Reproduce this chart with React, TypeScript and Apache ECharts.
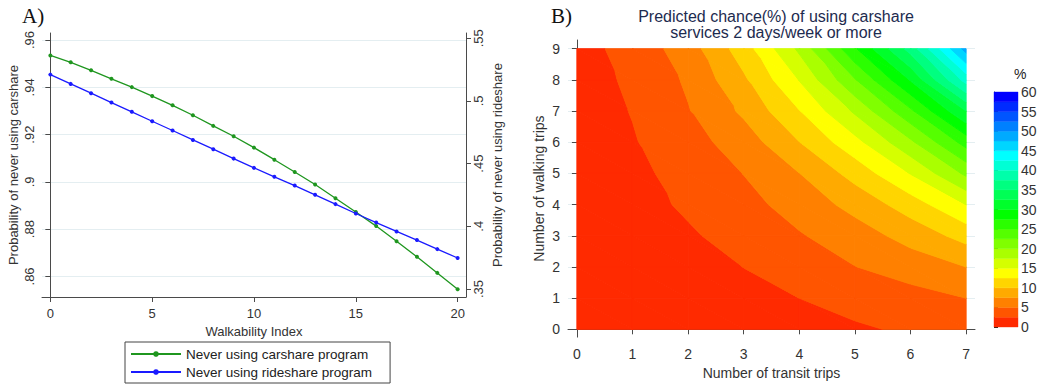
import React, { useEffect, useRef } from "react";
import * as echarts from "echarts";

// ---------- Panel A data ----------
const walkIndex = [0, 1, 2, 3, 4, 5, 6, 7, 8, 9, 10, 11, 12, 13, 14, 15, 16, 17, 18, 19, 20];
const neverCarshare = [0.9535, 0.9506, 0.9472, 0.9436, 0.9401, 0.9363, 0.9324, 0.9282, 0.9237, 0.9193, 0.9145,
  0.9094, 0.9042, 0.8989, 0.8931, 0.8873, 0.8813, 0.8749, 0.8683, 0.8615, 0.8546];
const neverRideshare = [0.521, 0.5136, 0.5062, 0.4987, 0.4913, 0.4838, 0.4764, 0.4689, 0.4615, 0.454, 0.4466,
  0.4395, 0.4325, 0.4251, 0.4177, 0.4102, 0.403, 0.3959, 0.389, 0.3818, 0.3747];
const walkTicks = [0, 5, 10, 15, 20];
const carshareTicks = [0.86, 0.88, 0.9, 0.92, 0.94, 0.96];
const rideshareTicks = [0.35, 0.4, 0.45, 0.5, 0.55];

// ---------- Panel B data ----------
const transitTrips = [0, 1, 2, 3, 4, 5, 6, 7];
const walkingTrips = [0, 1, 2, 3, 4, 5, 6, 7, 8, 9];
// predicted chance (%) : one row per walking-trip count, columns = transit trips 0..7
const chance0 = [0.4, 0.65, 0.95, 1.3, 1.7, 2.2, 2.8, 3.3];
const chance1 = [0.5, 0.85, 1.3, 1.85, 2.5, 3.3, 4.1, 5.0];
const chance2 = [0.6, 1.1, 1.7, 2.52, 3.6, 4.95, 6.1, 7.5];
const chance3 = [0.7, 1.35, 2.2, 3.4, 4.8, 6.3, 8.4, 10.9];
const chance4 = [0.8, 1.65, 2.85, 4.2, 6.0, 8.3, 11.2, 15.0];
const chance5 = [0.95, 1.91, 3.35, 5.05, 7.47, 10.9, 15.1, 20.5];
const chance6 = [1.15, 2.31, 4.04, 6.17, 9.96, 14.15, 19.5, 26.0];
const chance7 = [1.3, 2.6, 4.85, 7.95, 12.4, 17.9, 24.5, 32.5];
const chance8 = [1.45, 2.9, 5.36, 9.56, 15.1, 22.3, 30.2, 41.0];
const chance9 = [1.65, 3.32, 6.32, 11.3, 18.0, 27.2, 36.0, 48.5];
const chanceRows = [chance0, chance1, chance2, chance3, chance4, chance5, chance6, chance7, chance8, chance9];

const contourLevels = [0, 2.5, 5, 7.5, 10, 12.5, 15, 17.5, 20, 22.5, 25, 27.5, 30, 32.5, 35, 37.5, 40, 42.5,
  45, 47.5, 50, 52.5, 55, 57.5, 60];
const contourColors = [
  "#ff2a00", "#ff5500", "#ff8000", "#ffaa00", "#ffd500", "#ffff00",
  "#d5ff00", "#aaff00", "#80ff00", "#55ff00", "#2bff00", "#00ff00",
  "#00ff2b", "#00ff55", "#00ff80", "#00ffaa", "#00ffd5", "#00ffff",
  "#00d5ff", "#00aaff", "#0080ff", "#0055ff", "#002bff", "#0000ff",
];

type P = { x: number; y: number; z: number };

function clip(poly: P[], lvl: number, keepAbove: boolean): P[] {
  const out: P[] = [];
  const inside = (p: P) => (keepAbove ? p.z >= lvl : p.z <= lvl);
  for (let i = 0; i < poly.length; i++) {
    const a = poly[i];
    const b = poly[(i + 1) % poly.length];
    const ia = inside(a);
    const ib = inside(b);
    if (ia) out.push(a);
    if (ia !== ib) {
      const t = (lvl - a.z) / (b.z - a.z);
      out.push({ x: a.x + t * (b.x - a.x), y: a.y + t * (b.y - a.y), z: lvl });
    }
  }
  return out;
}

const FONT = "'Liberation Sans', Arial, sans-serif";
const AXIS_COLOR = "#4a4a4a";
const TEXT_COLOR = "#333";
const GRID_COLOR = "#e4eef1";

const fmtDot = (v: number) => {
  let s = v.toFixed(2);
  s = s.replace(/^0/, "");
  s = s.replace(/0$/, "");
  return s;
};

export default function App() {
  const ref = useRef<HTMLDivElement>(null);
  useEffect(() => {
    if (!ref.current) return;
    const chart = echarts.init(ref.current, undefined, { renderer: "svg" });

    const cells: number[][] = [];
    for (let j = 0; j < walkingTrips.length - 1; j++) {
      for (let i = 0; i < transitTrips.length - 1; i++) cells.push([i, j]);
    }
    const bands = contourColors.map((_, k) => [0, 1, k]);

    const option: any = {
      animation: false,
      textStyle: { fontFamily: FONT },
      title: {
        text: "Predicted chance(%) of using carshare\nservices 2 days/week or more",
        left: 771,
        top: 3,
        textAlign: "center",
        textStyle: { fontSize: 16, fontWeight: "normal", color: "#1d2b4f", lineHeight: 16, fontFamily: FONT },
      },
      legend: {
        left: 125,
        top: 342,
        orient: "vertical",
        itemWidth: 50,
        itemHeight: 7,
        itemGap: 4,
        padding: [5, 18, 4, 5],
        borderColor: "#444",
        borderWidth: 1,
        borderRadius: 0,
        textStyle: { fontSize: 13.5, color: "#222", fontFamily: FONT },
        data: ["Never using carshare program", "Never using rideshare program"],
      },
      grid: [
        { left: 42, top: 33, width: 424, height: 264 },
        { left: 568, top: 40, width: 407, height: 306 },
        { left: 994, top: 92, width: 24, height: 235 },
      ],
      xAxis: [
        {
          gridIndex: 0, type: "value", min: -0.41, max: 20.41,
          name: "Walkability Index", nameLocation: "middle", nameGap: 24,
          nameTextStyle: { fontSize: 13, color: TEXT_COLOR },
          axisLine: { show: true, lineStyle: { color: AXIS_COLOR } },
          axisTick: { show: true, length: 5, customValues: walkTicks, lineStyle: { color: AXIS_COLOR } },
          axisLabel: { customValues: walkTicks, fontSize: 13, color: TEXT_COLOR, margin: 10 },
          splitLine: { show: false },
        },
        {
          gridIndex: 1, type: "value", min: -0.16, max: 7.16,
          name: "Number of transit trips", nameLocation: "middle", nameGap: 28,
          nameTextStyle: { fontSize: 14, color: TEXT_COLOR },
          axisLine: { show: true, lineStyle: { color: AXIS_COLOR } },
          axisTick: { show: true, length: 5, customValues: transitTrips, lineStyle: { color: AXIS_COLOR } },
          axisLabel: { customValues: transitTrips, fontSize: 14, color: TEXT_COLOR, margin: 10 },
          splitLine: { show: false },
        },
        { gridIndex: 2, type: "value", min: 0, max: 1, show: false },
      ],
      yAxis: [
        {
          gridIndex: 0, type: "value", min: 0.8513, max: 0.963, position: "left",
          name: "Probability of never using carshare", nameLocation: "middle", nameGap: 22, nameRotate: 90,
          nameTextStyle: { fontSize: 13, color: TEXT_COLOR },
          axisLine: { show: true, lineStyle: { color: AXIS_COLOR } },
          axisTick: { show: true, length: 5, customValues: carshareTicks, lineStyle: { color: AXIS_COLOR } },
          axisLabel: { customValues: carshareTicks, fontSize: 13, color: TEXT_COLOR, rotate: 90, margin: 6, formatter: fmtDot },
          splitLine: { show: true, lineStyle: { color: GRID_COLOR, width: 1 } },
        },
        {
          gridIndex: 0, type: "value", min: 0.3436, max: 0.5542, position: "right",
          name: "Probability of never using rideshare", nameLocation: "middle", nameGap: 25, nameRotate: 90,
          nameTextStyle: { fontSize: 13, color: TEXT_COLOR },
          axisLine: { show: true, lineStyle: { color: AXIS_COLOR } },
          axisTick: { show: true, length: 5, customValues: rideshareTicks, lineStyle: { color: AXIS_COLOR } },
          axisLabel: { customValues: rideshareTicks, fontSize: 13, color: TEXT_COLOR, rotate: 90, margin: 6, formatter: fmtDot },
          splitLine: { show: false },
        },
        {
          gridIndex: 1, type: "value", min: -0.25, max: 9.28,
          name: "Number of walking trips", nameLocation: "middle", nameGap: 22, nameRotate: 90,
          nameTextStyle: { fontSize: 14, color: TEXT_COLOR },
          axisLine: { show: true, lineStyle: { color: AXIS_COLOR } },
          axisTick: { show: true, length: 5, customValues: walkingTrips, lineStyle: { color: AXIS_COLOR } },
          axisLabel: { customValues: walkingTrips, fontSize: 14, color: TEXT_COLOR, margin: 8 },
          splitLine: { show: true, lineStyle: { color: GRID_COLOR, width: 1 } },
        },
        {
          gridIndex: 2, type: "value", min: 0, max: 60, interval: 5, position: "right",
          axisLine: { show: true, lineStyle: { color: "#222" } },
          axisTick: { show: true, length: 4, lineStyle: { color: "#222" } },
          axisLabel: { fontSize: 14, color: TEXT_COLOR, margin: 3 },
          splitLine: { show: false },
        },
      ],
      series: [
        {
          name: "Never using carshare program",
          type: "line", xAxisIndex: 0, yAxisIndex: 0,
          data: walkIndex.map((x, i) => [x, neverCarshare[i]]),
          color: "#1f961f",
          lineStyle: { width: 1.3 },
          symbol: "circle", symbolSize: 4,
        },
        {
          name: "Never using rideshare program",
          type: "line", xAxisIndex: 0, yAxisIndex: 1,
          data: walkIndex.map((x, i) => [x, neverRideshare[i]]),
          color: "#1a1aff",
          lineStyle: { width: 1.3 },
          symbol: "circle", symbolSize: 4,
        },
        {
          type: "custom", xAxisIndex: 1, yAxisIndex: 2, silent: true,
          data: cells,
          renderItem: (params: any, api: any) => {
            const i = api.value(0);
            const j = api.value(1);
            const v = (a: number, b: number): P => ({ x: transitTrips[a], y: walkingTrips[b], z: chanceRows[b][a] });
            const tris = [
              [v(i, j), v(i + 1, j), v(i, j + 1)],
              [v(i + 1, j), v(i + 1, j + 1), v(i, j + 1)],
            ];
            const children: any[] = [];
            for (const tri of tris) {
              for (let k = 0; k < contourColors.length; k++) {
                let poly = clip(tri, contourLevels[k], true);
                if (poly.length < 3) continue;
                poly = clip(poly, contourLevels[k + 1], false);
                if (poly.length < 3) continue;
                const pts = poly.map((p) => api.coord([p.x, p.y]));
                children.push({
                  type: "polygon",
                  shape: { points: pts },
                  style: { fill: contourColors[k], stroke: contourColors[k], lineWidth: 1 },
                });
              }
            }
            return { type: "group", children };
          },
        },
        {
          type: "custom", xAxisIndex: 2, yAxisIndex: 3, silent: true,
          data: bands,
          renderItem: (params: any, api: any) => {
            const k = api.value(2);
            const p0 = api.coord([0, contourLevels[k]]);
            const p1 = api.coord([1, contourLevels[k + 1]]);
            return {
              type: "rect",
              shape: { x: p0[0], y: p1[1], width: p1[0] - p0[0], height: p0[1] - p1[1] },
              style: { fill: contourColors[k], stroke: contourColors[k], lineWidth: 0.4 },
            };
          },
        },
      ],
      graphic: [
        { type: "text", left: 22, top: 5, style: { text: "A)", font: "21px 'Liberation Serif', 'Times New Roman', serif", fill: "#111" } },
        { type: "text", left: 551, top: 5, style: { text: "B)", font: "21px 'Liberation Serif', 'Times New Roman', serif", fill: "#111" } },
        { type: "text", left: 1014, top: 67, style: { text: "%", font: "14px 'Liberation Sans', Arial, sans-serif", fill: "#222" } },
      ],
    };
    chart.setOption(option);
    return () => chart.dispose();
  }, []);
  return <div ref={ref} style={{ position: "fixed", left: 0, top: 0, width: 1040, height: 385, background: "#fff" }} />;
}
